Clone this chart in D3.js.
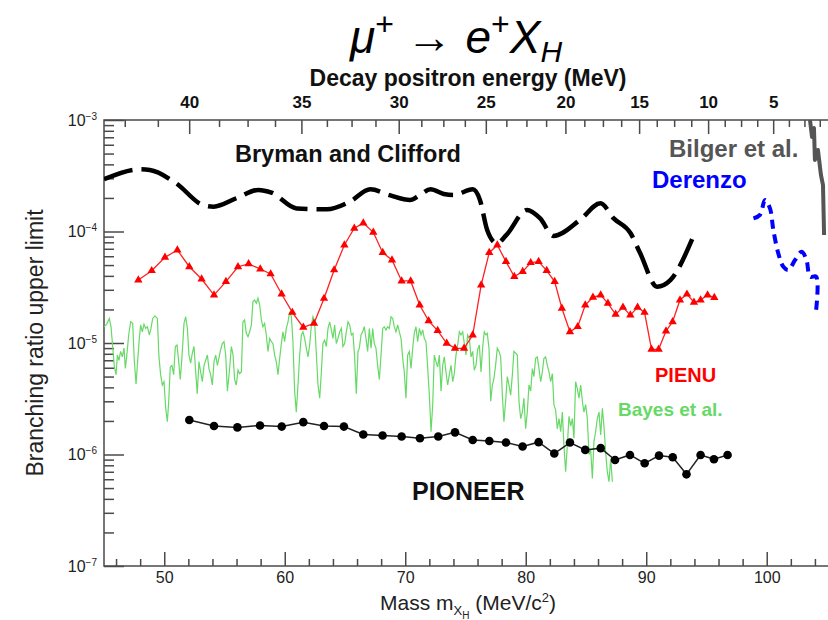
<!DOCTYPE html>
<html>
<head>
<meta charset="utf-8">
<script src="https://cdn.jsdelivr.net/npm/d3@7"></script>
<style>
  body { margin: 0; background: #fff; }
  text { font-family: "Liberation Sans", Arial, sans-serif; }
</style>
</head>
<body>
<div id="chart"></div>
<script>
// ---- data (mass in MeV/c^2, branching ratio upper limit) ----
var brymanMass = [45.0, 48.0, 48.8, 51.0, 53.2, 54.1, 56.0, 57.8, 58.9, 61.0, 63.5, 65.4, 67.1, 68.7, 70.4, 71.2, 72.1, 73.2,
  74.0, 75.6, 76.2, 76.8, 77.6, 78.4, 80.1, 81.2, 82.3, 84.5, 86.2, 87.3, 88.7, 89.5, 90.9, 92.0, 93.9];
var brymanBR = [2.94e-4, 3.61e-4, 3.56e-4, 2.70e-4, 1.73e-4, 1.67e-4, 1.99e-4, 2.36e-4, 2.23e-4, 1.61e-4, 1.58e-4, 1.85e-4,
  2.39e-4, 2.12e-4, 1.92e-4, 2.12e-4, 2.39e-4, 2.17e-4, 2.12e-4, 2.39e-4, 1.92e-4, 1.03e-4, 7.83e-5, 9.31e-5, 1.56e-4,
  1.31e-4, 9.12e-5, 1.27e-4, 1.79e-4, 1.31e-4, 9.64e-5, 6.37e-5, 3.20e-5, 3.67e-5, 9.0e-5];

var pienuMass = [47.85, 48.96, 50.06, 51.09, 52.08, 53.10, 54.13, 55.12, 56.12, 57.00, 57.97, 58.83, 59.74, 60.63, 61.54,
  62.43, 63.26, 64.10, 64.95, 65.77, 66.52, 67.35, 68.13, 68.90, 69.70, 70.45, 71.20, 71.94, 72.69, 73.44, 74.13, 74.88,
  75.60, 76.30, 76.97, 77.64, 78.36, 79.05, 79.75, 80.41, 81.07, 81.74, 82.40, 83.00, 83.67, 84.31, 84.94, 85.58, 86.22,
  86.82, 87.46, 88.07, 88.68, 89.28, 89.86, 90.44, 91.03, 91.64, 92.19, 92.80, 93.38, 93.96, 94.51, 95.09, 95.65];
var pienuBR = [3.67e-5, 4.45e-5, 5.86e-5, 6.82e-5, 4.83e-5, 3.75e-5, 2.69e-5, 3.55e-5, 4.83e-5, 5.12e-5, 4.61e-5, 4.16e-5,
  2.75e-5, 1.88e-5, 1.38e-5, 1.50e-5, 2.51e-5, 4.52e-5, 7.57e-5, 1.07e-4, 1.19e-4, 9.84e-5, 6.46e-5, 5.55e-5, 3.60e-5,
  3.60e-5, 2.19e-5, 1.58e-5, 1.29e-5, 9.93e-6, 8.95e-6, 8.95e-6, 1.18e-5, 3.31e-5, 6.46e-5, 7.57e-5, 5.37e-5, 3.94e-5,
  4.37e-5, 5.25e-5, 5.37e-5, 4.46e-5, 3.55e-5, 2.05e-5, 1.26e-5, 1.40e-5, 2.19e-5, 2.57e-5, 2.69e-5, 2.27e-5, 1.81e-5,
  2.09e-5, 1.78e-5, 2.09e-5, 1.88e-5, 8.77e-6, 8.77e-6, 1.28e-5, 1.55e-5, 2.43e-5, 2.74e-5, 2.32e-5, 2.43e-5, 2.69e-5, 2.55e-5];

var pioneerMass = [52.08, 54.13, 56.07, 57.95, 59.75, 61.54, 63.26, 64.91, 66.52, 68.12, 69.70, 71.22, 72.74, 74.13, 75.60,
  76.98, 78.36, 79.74, 81.07, 82.37, 83.67, 84.94, 86.22, 87.41, 88.65, 89.87, 91.06, 92.20, 93.34, 94.51, 95.62, 96.75];
var pioneerBR = [2.04e-6, 1.80e-6, 1.75e-6, 1.82e-6, 1.78e-6, 1.95e-6, 1.80e-6, 1.78e-6, 1.51e-6, 1.48e-6, 1.45e-6, 1.40e-6,
  1.45e-6, 1.58e-6, 1.35e-6, 1.32e-6, 1.28e-6, 1.18e-6, 1.29e-6, 1.02e-6, 1.28e-6, 1.10e-6, 1.14e-6, 8.93e-7, 9.91e-7,
  8.34e-7, 9.77e-7, 9.44e-7, 6.64e-7, 9.91e-7, 9.06e-7, 9.91e-7];

var derenzoMass = [98.9, 99.44, 99.86, 100.27, 100.55, 100.96, 101.38, 101.8, 102.35, 102.9, 103.3, 103.6, 104.1, 104.1];
var derenzoBR = [1.31e-4, 1.41e-4, 1.92e-4, 1.61e-4, 1.03e-4, 6.37e-5, 4.83e-5, 4.52e-5, 5.55e-5, 6.59e-5, 5.55e-5,
  3.94e-5, 3.94e-5, 1.98e-5];

var bilgerMass = [103.59, 103.76, 103.92, 104.0, 104.25, 104.5, 104.67, 104.76];
var bilgerBR = [1.0e-3, 7.04e-4, 8.48e-4, 4.38e-4, 5.39e-4, 3.21e-4, 2.61e-4, 9.31e-5];

// Bayes et al. : [mass, BR]
var bayesPts = [
  [45.0,1.40e-5],[45.22,1.47e-5],[45.44,1.66e-5],[45.58,1.40e-5],[45.72,9.3e-6],[45.86,6.1e-6],[46.00,5.2e-6],
  [46.11,7.8e-6],[46.24,7.0e-6],[46.38,8.4e-6],[46.52,7.5e-6],[46.66,9.0e-6],[46.77,5.9e-6],[46.88,7.5e-6],
  [47.05,1.18e-5],[47.21,1.55e-5],[47.38,1.50e-5],[47.52,6.8e-6],[47.66,4.3e-6],[47.79,6.8e-6],[47.93,1.10e-5],
  [48.04,1.45e-5],[48.18,1.26e-5],[48.32,1.47e-5],[48.46,1.35e-5],[48.60,1.40e-5],[48.76,1.18e-5],[48.90,1.35e-5],
  [49.04,1.66e-5],[49.23,1.75e-5],[49.43,1.66e-5],[49.56,7.5e-6],[49.70,5.2e-6],[49.84,4.2e-6],[49.98,4.5e-6],
  [50.12,2.6e-6],[50.26,1.97e-6],[50.37,3.0e-6],[50.50,6.1e-6],[50.64,6.3e-6],[50.78,5.2e-6],[50.92,9.3e-6],
  [51.06,9.6e-6],[51.20,6.8e-6],[51.33,4.7e-6],[51.47,7.5e-6],[51.64,1.50e-5],[51.78,1.72e-5],[51.92,1.35e-5],
  [52.05,7.8e-6],[52.19,6.6e-6],[52.33,8.1e-6],[52.47,9.3e-6],[52.61,5.5e-6],[52.74,3.5e-6],[52.88,6.8e-6],
  [53.02,5.5e-6],[53.16,4.5e-6],[53.30,6.3e-6],[53.44,7.0e-6],[53.58,7.8e-6],[53.71,5.9e-6],[53.85,5.2e-6],
  [53.99,4.2e-6],[54.13,6.8e-6],[54.27,7.8e-6],[54.41,6.3e-6],[54.54,7.3e-6],[54.68,8.7e-6],[54.82,9.9e-6],
  [54.96,1.03e-5],[55.10,7.8e-6],[55.24,3.7e-6],[55.40,5.5e-6],
  [55.57,9.3e-6],[55.71,7.8e-6],[55.84,4.7e-6],[55.98,4.2e-6],[56.12,5.7e-6],[56.26,5.3e-6],[56.40,5.5e-6],
  [56.53,1.55e-5],[56.67,1.61e-5],[56.81,1.22e-5],[56.95,1.14e-5],[57.09,1.26e-5],[57.23,1.45e-5],[57.36,2.35e-5],
  [57.50,2.43e-5],[57.64,2.27e-5],[57.78,2.52e-5],[57.92,2.19e-5],[58.06,1.61e-5],[58.19,1.40e-5],[58.33,1.50e-5],
  [58.47,1.18e-5],[58.61,8.4e-6],[58.75,1.10e-5],[58.89,1.03e-5],[59.02,9.9e-6],[59.16,7.8e-6],[59.30,6.8e-6],
  [59.44,5.2e-6],[59.58,7.3e-6],[59.72,9.9e-6],[59.85,1.26e-5],[59.99,1.03e-5],[60.13,1.35e-5],[60.27,1.55e-5],
  [60.41,1.91e-5],[60.55,1.72e-5],[60.68,1.03e-5],[60.82,3.7e-6],[60.96,2.4e-6],[61.10,4.2e-6],[61.24,7.8e-6],
  [61.38,1.18e-5],[61.51,1.26e-5],[61.65,1.10e-5],[61.79,9.0e-6],[61.93,7.5e-6],[62.07,9.6e-6],[62.21,1.45e-5],
  [62.34,1.72e-5],[62.48,1.55e-5],[62.62,8.1e-6],[62.76,4.2e-6],[62.90,3.2e-6],[63.04,5.5e-6],[63.17,9.9e-6],
  [63.31,1.06e-5],[63.45,9.3e-6],[63.59,1.35e-5],[63.73,1.55e-5],[63.87,1.31e-5],[64.00,1.10e-5],[64.14,1.45e-5],
  [64.28,9.9e-6],[64.42,1.10e-5],[64.56,1.26e-5],[64.70,1.35e-5],[64.83,9.3e-6],[64.97,9.9e-6],[65.11,1.26e-5],
  [65.25,1.55e-5],[65.39,1.45e-5],[65.53,1.18e-5],[65.66,1.22e-5],[65.80,7.5e-6],[65.94,3.5e-6],[66.08,8.4e-6],
  [66.19,9.0e-6],[66.33,1.18e-5],[66.47,1.26e-5],[66.60,1.40e-5],[66.74,1.10e-5],[66.88,8.4e-6],[67.02,1.35e-5],
  [67.16,9.0e-6],[67.30,1.35e-5],[67.43,9.9e-6],[67.57,9.0e-6],[67.71,6.3e-6],[67.85,4.7e-6],[67.99,7.8e-6],
  [68.13,1.35e-5],[68.26,1.40e-5],[68.40,1.31e-5],[68.54,1.40e-5],[68.68,1.35e-5],[68.82,1.72e-5],[68.96,1.66e-5],
  [69.09,1.40e-5],[69.23,1.26e-5],[69.37,1.45e-5],[69.51,1.26e-5],[69.65,1.10e-5],[69.79,7.3e-6],[69.92,5.5e-6],
  [70.06,3.2e-6],[70.20,7.8e-6],[70.34,8.4e-6],[70.48,5.9e-6],[70.62,9.0e-6],[70.75,1.22e-5],[70.89,1.40e-5],
  [71.03,1.03e-5],[71.17,1.35e-5],[71.31,1.18e-5],[71.45,1.31e-5],[71.58,1.10e-5],[71.72,1.03e-5],[71.86,6.1e-6],
  [72.00,3.4e-6],[72.14,1.6e-6],[72.28,2.8e-6],[72.41,7.8e-6],[72.55,6.8e-6],[72.69,6.1e-6],[72.83,7.8e-6],
  [72.97,3.7e-6],[73.11,6.3e-6],[73.24,7.5e-6],[73.38,5.5e-6],[73.52,4.2e-6],[73.66,5.2e-6],[73.80,6.3e-6],
  [73.94,4.5e-6],[74.07,5.3e-6],[74.21,7.8e-6],[74.35,9.6e-6],[74.49,1.26e-5],[74.63,1.18e-5],[74.77,1.26e-5],
  [74.90,9.9e-6],[75.04,7.8e-6],[75.18,1.18e-5],[75.32,1.10e-5],[75.46,7.5e-6],[75.60,8.4e-6],[75.73,5.7e-6],
  [75.87,6.3e-6],[76.01,8.7e-6],[76.15,9.6e-6],[76.29,5.5e-6],[76.43,9.3e-6],[76.56,1.26e-5],[76.70,1.18e-5],
  [76.81,1.22e-5],[76.95,9.0e-6],[77.09,3.0e-6],[77.23,4.2e-6],[77.36,4.8e-6],[77.50,6.3e-6],[77.64,9.0e-6],
  [77.78,8.4e-6],[77.92,7.5e-6],[78.06,3.4e-6],[78.19,1.97e-6],[78.33,3.0e-6],[78.47,5.0e-6],[78.61,4.2e-6],
  [78.75,3.4e-6],[78.89,5.2e-6],[79.02,8.4e-6],[79.16,8.1e-6],[79.30,7.8e-6],[79.44,3.0e-6],[79.58,2.1e-6],
  [79.72,2.4e-6],[79.85,3.2e-6],[79.99,1.7e-6],[80.13,2.4e-6],[80.27,4.2e-6],[80.41,3.7e-6],[80.55,5.9e-6],
  [80.68,5.0e-6],[80.82,7.3e-6],[80.96,7.5e-6],[81.10,5.9e-6],[81.24,4.5e-6],[81.38,5.5e-6],[81.51,7.3e-6],
  [81.65,7.5e-6],[81.79,6.3e-6],[81.93,5.5e-6],[82.07,4.5e-6],[82.21,5.3e-6],[82.34,2.8e-6],[82.48,2.5e-6],
  [82.62,1.7e-6],[82.76,2.1e-6],[82.90,1.6e-6],[83.04,2.4e-6],[83.17,1.2e-6],[83.31,7.0e-7],[83.45,1.2e-6],
  [83.59,2.2e-6],[83.73,1.8e-6],[83.87,2.1e-6],[84.00,1.4e-6],[84.14,4.5e-6],[84.28,3.9e-6],[84.42,3.2e-6],
  [84.56,4.2e-6],[84.70,3.0e-6],[84.83,2.4e-6],[84.97,2.8e-6],[85.11,2.1e-6],[85.25,1.0e-6],[85.39,1.1e-6],
  [85.53,6.1e-7],[85.66,1.3e-6],[85.80,1.6e-6],[85.94,2.1e-6],[86.08,2.4e-6],[86.22,1.5e-6],[86.36,2.6e-6],
  [86.49,1.8e-6],[86.63,1.06e-6],[86.77,7.0e-7],[86.91,5.7e-7],[87.05,9.2e-7],[87.19,5.7e-7]
];

// axis ticks
var massMajor = [50, 60, 70, 80, 90, 100];
var massMinor = [46, 48, 52, 54, 56, 58, 62, 64, 66, 68, 72, 74, 76, 78, 82, 84, 86, 88, 92, 94, 96, 98, 102, 104];
var energyMajor = [40, 35, 30, 25, 20, 15, 10, 5];
var energyMinor = [42.5, 41.25, 38.75, 37.5, 36.25, 33.75, 32.5, 31.25, 28.75, 27.5, 26.25, 23.75, 22.5, 21.25,
  18.75, 17.5, 16.25, 13.75, 12.5, 11.25, 8.75, 7.5, 6.25, 3.75, 2.5, 1.25];
var brDecades = [1e-7, 1e-6, 1e-5, 1e-4, 1e-3];
var brExp = ["\u22127", "\u22126", "\u22125", "\u22124", "\u22123"];

// two body decay mu+ -> e+ X : positron energy -> X mass
var mMu = 105.658, mE = 0.511;
function massFromEnergy(e) {
  return Math.sqrt(mMu * mMu + mE * mE - 2 * mMu * e);
}

var svgWidth = 828;
var svgHeight = 620;
var margin = { top: 120, left: 104 };
var width = 729;
var height = 446;

var svg = d3.select("#chart").append("svg")
  .attr("width", svgWidth)
  .attr("height", svgHeight);

var chartGroup = svg.append("g")
  .attr("transform", `translate(${margin.left}, ${margin.top})`);

var x = d3.scaleLinear().domain([45, 105.5]).range([0, width]);
var y = d3.scaleLog().domain([1e-7, 1e-3]).range([height, 0]);

var axisColor = "#4a4a4a";

// frame
chartGroup.append("rect")
  .attr("width", width).attr("height", height)
  .attr("fill", "none").attr("stroke", axisColor).attr("stroke-width", 1.5);

// bottom axis
var bottomMinor = chartGroup.append("g")
  .attr("transform", `translate(0, ${height})`)
  .call(d3.axisBottom(x).tickValues(massMinor).tickSizeInner(-7).tickSizeOuter(0).tickFormat(""));
var bottomMajor = chartGroup.append("g")
  .attr("transform", `translate(0, ${height})`)
  .call(d3.axisBottom(x).tickValues(massMajor).tickSizeInner(-14).tickSizeOuter(0).tickPadding(6));
bottomMajor.selectAll("text").attr("font-size", 16).attr("fill", "#222");

// top axis (positron energy)
var topMinor = chartGroup.append("g")
  .call(d3.axisTop(x).tickValues(energyMinor.map(massFromEnergy)).tickSizeInner(-7).tickSizeOuter(0).tickFormat(""));
var topMajor = chartGroup.append("g")
  .call(d3.axisTop(x).tickValues(energyMajor.map(massFromEnergy)).tickSizeInner(-14).tickSizeOuter(0)
    .tickPadding(12).tickFormat((d, i) => energyMajor[i]));
topMajor.selectAll("text").attr("font-size", 17).attr("font-weight", "bold").attr("fill", "#111");

// left axis
var leftMinorVals = [];
brDecades.slice(0, 4).forEach(function(d) {
  for (var k = 2; k <= 9; k++) leftMinorVals.push(k * d);
});
var leftMinor = chartGroup.append("g")
  .call(d3.axisLeft(y).tickValues(leftMinorVals).tickSizeInner(-10).tickSizeOuter(0).tickFormat(""));
var leftMajor = chartGroup.append("g")
  .call(d3.axisLeft(y).tickValues(brDecades).tickSizeInner(-20).tickSizeOuter(0).tickPadding(7).tickFormat(""));
leftMajor.selectAll("text").each(function(d, i) {
  var t = d3.select(this).attr("font-size", 16).attr("fill", "#222");
  t.append("tspan").text("10");
  t.append("tspan").attr("font-size", 10).attr("dy", "-0.6em").text(brExp[i]);
});

[bottomMinor, bottomMajor, topMinor, topMajor, leftMinor, leftMajor].forEach(function(g) {
  g.attr("color", axisColor);
  g.selectAll("line").attr("stroke-width", 1.5);
  g.select(".domain").remove();
});

// plot clip
chartGroup.append("clipPath").attr("id", "plotClip")
  .append("rect").attr("width", width).attr("height", height);
var plot = chartGroup.append("g").attr("clip-path", "url(#plotClip)");

var lineXY = d3.line().x(d => x(d[0])).y(d => y(d[1]));
function zipData(ms, vs) { return ms.map((m, i) => [m, vs[i]]); }

// Bayes et al. (green, fine)
plot.append("path")
  .datum(bayesPts)
  .attr("d", lineXY)
  .attr("fill", "none").attr("stroke", "#66d966").attr("stroke-width", 1.2);

// Bryman and Clifford (long dashes)
plot.append("path")
  .datum(zipData(brymanMass, brymanBR))
  .attr("d", d3.line().x(d => x(d[0])).y(d => y(d[1])).curve(d3.curveMonotoneX))
  .attr("fill", "none").attr("stroke", "#000").attr("stroke-width", 4.5)
  .attr("stroke-dasharray", "30,9");

// Derenzo (blue dashes)
plot.append("path")
  .datum(zipData(derenzoMass, derenzoBR))
  .attr("d", d3.line().x(d => x(d[0])).y(d => y(d[1])).curve(d3.curveCatmullRom))
  .attr("fill", "none").attr("stroke", "#0000ff").attr("stroke-width", 4)
  .attr("stroke-dasharray", "9,6");

// Bilger et al. (grey)
plot.append("path")
  .datum(zipData(bilgerMass, bilgerBR))
  .attr("d", lineXY)
  .attr("fill", "none").attr("stroke", "#555").attr("stroke-width", 4).attr("stroke-linejoin", "round");

// PIENU (red triangles)
var pienu = zipData(pienuMass, pienuBR);
plot.append("path")
  .datum(pienu)
  .attr("d", lineXY)
  .attr("fill", "none").attr("stroke", "#ff2020").attr("stroke-width", 1.3);
plot.selectAll(".pienuMark")
  .data(pienu)
  .enter()
  .append("path")
  .attr("class", "pienuMark")
  .attr("transform", d => `translate(${x(d[0])}, ${y(d[1])})`)
  .attr("d", d3.symbol().type(d3.symbolTriangle).size(30))
  .attr("fill", "#ff0000");

// PIONEER (black dots)
var pioneer = zipData(pioneerMass, pioneerBR);
plot.append("path")
  .datum(pioneer)
  .attr("d", lineXY)
  .attr("fill", "none").attr("stroke", "#222").attr("stroke-width", 1.5);
plot.selectAll(".pioneerMark")
  .data(pioneer)
  .enter()
  .append("circle")
  .attr("class", "pioneerMark")
  .attr("cx", d => x(d[0]))
  .attr("cy", d => y(d[1]))
  .attr("r", 4.3)
  .attr("fill", "#000");

// series labels
function label(txt, px, py, color, size) {
  svg.append("text")
    .attr("x", px).attr("y", py)
    .attr("font-size", size).attr("font-weight", "bold")
    .attr("fill", color)
    .text(txt);
}
label("Bryman and Clifford", 235, 162, "#111", 23.5);
label("Bilger et al.", 669, 157, "#555", 24);
label("Derenzo", 652, 188, "#0000ff", 24);
label("PIENU", 655, 382, "#ff0000", 20);
label("Bayes et al.", 618, 416, "#66d966", 19);
label("PIONEER", 412, 500, "#111", 25);

// axis titles
svg.append("text")
  .attr("x", 468).attr("y", 86)
  .attr("text-anchor", "middle")
  .attr("font-size", 23).attr("font-weight", "bold").attr("fill", "#111")
  .text("Decay positron energy (MeV)");

var xTitle = svg.append("text")
  .attr("x", 468).attr("y", 610)
  .attr("text-anchor", "middle")
  .attr("font-size", 21).attr("fill", "#222");
xTitle.append("tspan").text("Mass m");
xTitle.append("tspan").attr("font-size", 13).attr("dy", 5).text("X");
xTitle.append("tspan").attr("font-size", 10).attr("dy", 4).text("H");
xTitle.append("tspan").attr("dy", -9).text(" (MeV/c");
xTitle.append("tspan").attr("font-size", 13).attr("dy", -8).text("2");
xTitle.append("tspan").attr("dy", 8).text(")");

svg.append("text")
  .attr("transform", "translate(43, 343) rotate(-90)")
  .attr("text-anchor", "middle")
  .attr("font-size", 23).attr("fill", "#222")
  .text("Branching ratio upper limit");

// title
var title = svg.append("text")
  .attr("x", 456).attr("y", 53)
  .attr("text-anchor", "middle")
  .attr("font-family", "'Liberation Serif', 'DejaVu Serif', serif")
  .attr("font-size", 46).attr("fill", "#000");
title.append("tspan").attr("font-style", "italic").text("\u03bc");
title.append("tspan").attr("font-size", 32).attr("dy", -18).text("+");
title.append("tspan").attr("dy", 18).text(" \u2192 ");
title.append("tspan").attr("font-style", "italic").text("e");
title.append("tspan").attr("font-size", 32).attr("dy", -18).text("+");
title.append("tspan").attr("font-style", "italic").attr("dy", 18).text("X");
title.append("tspan").attr("font-style", "italic").attr("font-size", 30).attr("dy", 9).text("H");
</script>
</body>
</html>
